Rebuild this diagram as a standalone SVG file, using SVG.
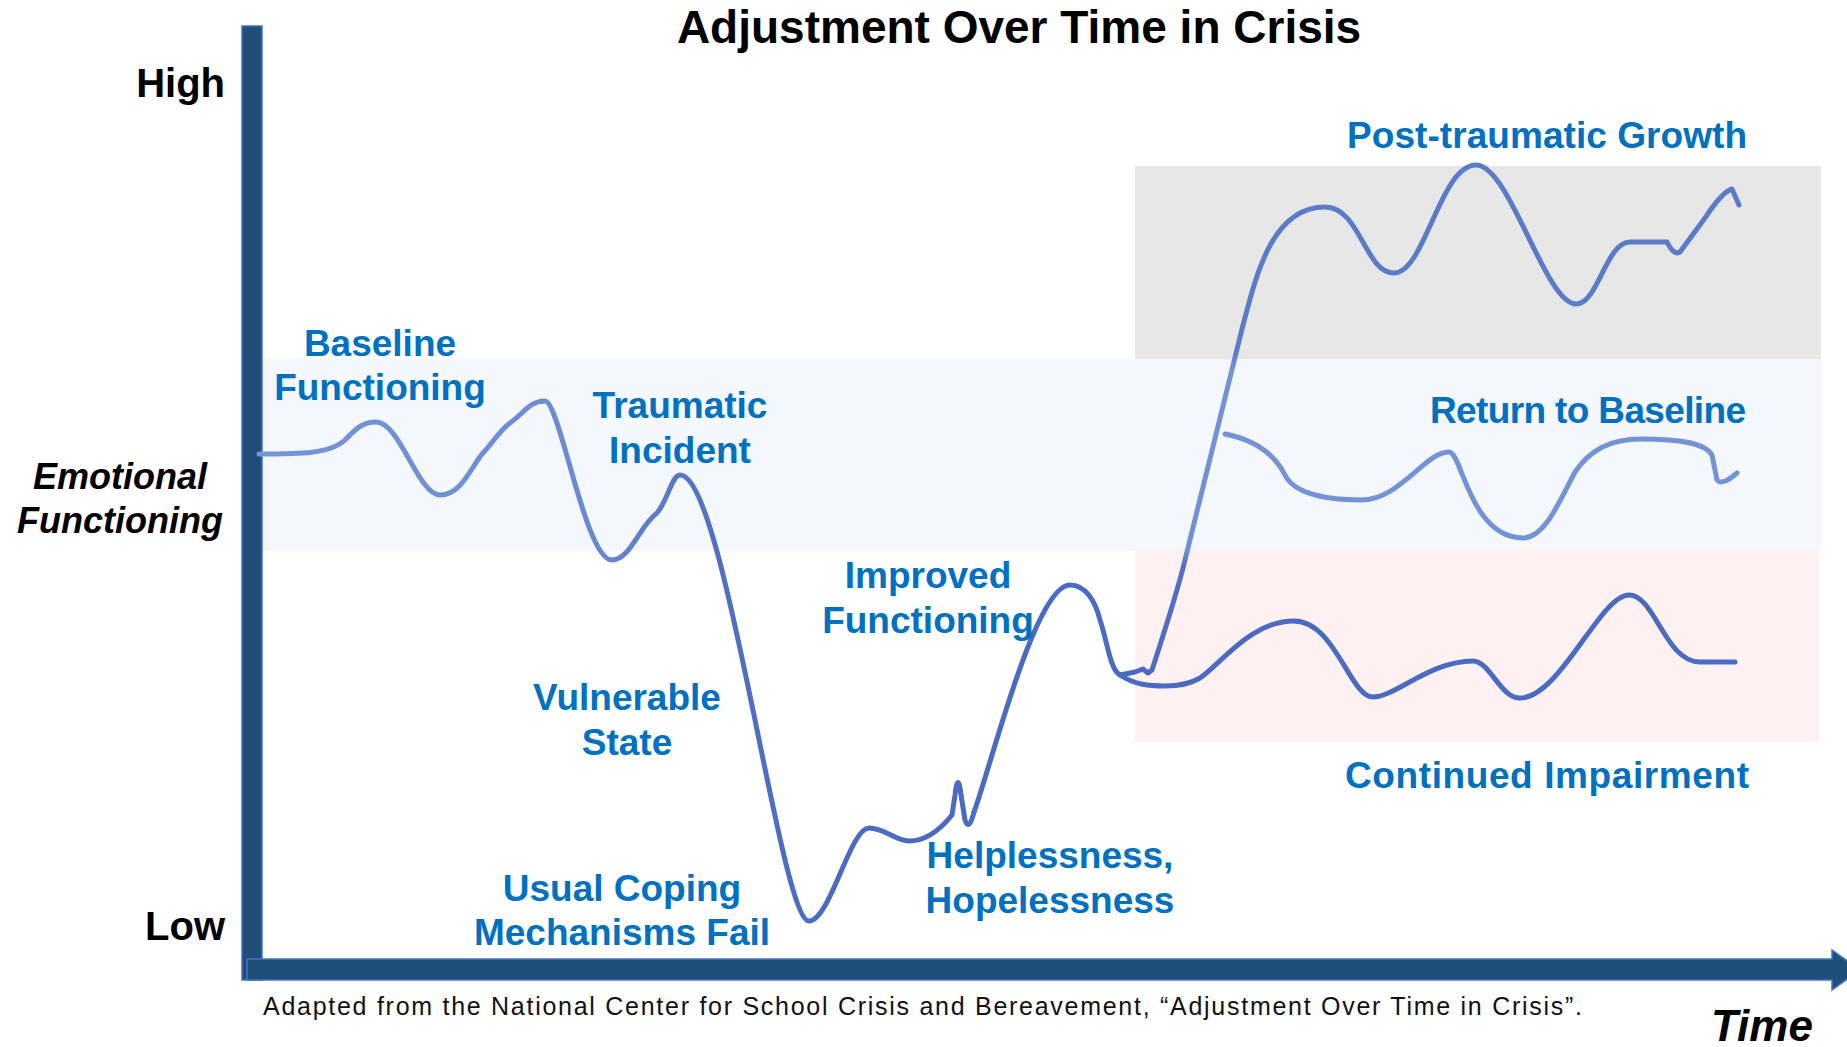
<svg xmlns="http://www.w3.org/2000/svg" width="1847" height="1047" viewBox="0 0 1847 1047">
<defs>
<style>
.lbl{font-family:"Liberation Sans",Arial,sans-serif;font-weight:bold;font-size:37px;fill:#0070C0}
.axl{font-family:"Liberation Sans",Arial,sans-serif;font-weight:bold;fill:#000}
.curve{fill:none;stroke-width:5;stroke-linecap:round;stroke-linejoin:round}
.note{font-family:"Liberation Sans",Arial,sans-serif;font-size:25px;fill:#111}
</style>
<linearGradient id="gMain" gradientUnits="userSpaceOnUse" x1="259" y1="0" x2="830" y2="0">
<stop offset="0" stop-color="#7495D8"/>
<stop offset="0.55" stop-color="#6B8CD4"/>
<stop offset="0.8" stop-color="#4F70C4"/>
<stop offset="1" stop-color="#4A6BC2"/>
</linearGradient>
<linearGradient id="gUp" gradientUnits="userSpaceOnUse" x1="0" y1="680" x2="0" y2="160">
<stop offset="0" stop-color="#4A6BC2"/>
<stop offset="0.22" stop-color="#5273C4"/>
<stop offset="0.25" stop-color="#7090D4"/>
<stop offset="0.6" stop-color="#7393D6"/>
<stop offset="0.63" stop-color="#5A7BC8"/>
<stop offset="1" stop-color="#5A7BC8"/>
</linearGradient>
</defs>
<rect width="1847" height="1047" fill="#fff"/>

<g id="zones">
<rect x="262" y="359" width="1560" height="192" fill="#F4F7FC"/>
<rect x="1135" y="166" width="686" height="193" fill="#E7E7E7"/>
<rect x="1135" y="550" width="684" height="192" fill="#FFF1F1"/>
</g>

<g id="axes">
<rect x="242" y="26" width="20" height="954" fill="#1F4E79" stroke="#4472C4" stroke-width="1.5"/>
<path d="M247,959 L1832,959 L1832,950 L1860,970 L1832,990 L1832,980 L247,980 Z" fill="#1F4E79" stroke="#4472C4" stroke-width="1.5"/>
</g>

<g id="connectors">
<path class="curve" stroke="url(#gMain)" d="M259,454 C300,454 330,454 345,440 C358,426 365,422 376,422 C400,422 418,495 440,495 C462,495 472,465 483,453 C495,440 500,430 510,423 C525,412 530,401 545,401 C560,401 585,560 612,560 C630,560 640,525 657,513 C668,500 672,475 680,475 C725,475 780,921 809,921 C830,921 850,828 869,828 C885,828 895,841 909,841 C925,841 940,830 952,815 L955,795 Q958,770 961,795 L965,820 Q969,832 974,812"/>
<path class="curve" stroke="#4A6BC2" d="M974,812 C990,770 1035,585 1070,585 C1085,585 1095,600 1100,620 C1107,640 1110,670 1120,675"/>
<path class="curve" stroke="#4A6BC2" d="M1120,675 C1135,685 1150,686 1165,686 C1180,686 1190,684 1200,678 C1220,665 1250,621 1294,621 C1335,621 1350,697 1373,697 C1395,697 1430,661 1473,661 C1490,661 1500,698 1520,698 C1560,698 1600,595 1629,595 C1655,595 1665,662 1700,662 L1735,662"/>
<path class="curve" stroke="url(#gUp)" d="M1120,675 L1135,672 L1143,669 L1148,673 L1152,670 C1165,630 1178,590 1185,560 L1241,333 C1255,280 1270,207 1325,207 C1360,207 1365,273 1394,273 C1425,273 1440,165 1476,165 C1510,165 1545,304 1576,304 C1598,304 1606,242 1630,242 L1667,242 Q1674,256 1680,252 L1705,218 Q1722,192 1732,189 L1739,205"/>
<path class="curve" stroke="#7393D6" d="M1225,434 C1255,440 1275,455 1285,475 C1295,495 1330,500 1361,500 C1400,500 1425,452 1449,452 C1462,452 1470,538 1523,538 C1545,538 1560,500 1575,472 C1590,450 1610,439 1641,439 C1680,439 1705,443 1712,455 L1717,480 Q1722,486 1737,473"/>
</g>

<g id="title"><text class="axl" x="1019" y="43" font-size="46" text-anchor="middle">Adjustment Over Time in Crisis</text></g>
<g id="high"><text class="axl" x="225" y="97" font-size="40" text-anchor="end">High</text></g>
<g id="low"><text class="axl" x="225" y="940" font-size="40" text-anchor="end">Low</text></g>
<g id="yaxis-label"><text class="axl" font-size="36" font-style="italic" text-anchor="middle"><tspan x="120" y="489">Emotional</tspan><tspan x="120" y="533">Functioning</tspan></text></g>
<g id="time"><text class="axl" x="1711" y="1041" font-size="44" font-style="italic">Time</text></g>

<g id="baseline"><text class="lbl" text-anchor="middle"><tspan x="380" y="356">Baseline</tspan><tspan x="380" y="400">Functioning</tspan></text></g>
<g id="traumatic"><text class="lbl" text-anchor="middle"><tspan x="680" y="418">Traumatic</tspan><tspan x="680" y="463">Incident</tspan></text></g>
<g id="vulnerable"><text class="lbl" text-anchor="middle"><tspan x="627" y="710">Vulnerable</tspan><tspan x="627" y="755">State</tspan></text></g>
<g id="coping"><text class="lbl" text-anchor="middle"><tspan x="622" y="901">Usual Coping</tspan><tspan x="622" y="945">Mechanisms Fail</tspan></text></g>
<g id="improved"><text class="lbl" text-anchor="middle"><tspan x="928" y="588">Improved</tspan><tspan x="928" y="633">Functioning</tspan></text></g>
<g id="helpless"><text class="lbl" text-anchor="middle"><tspan x="1050" y="868">Helplessness,</tspan><tspan x="1050" y="913">Hopelessness</tspan></text></g>
<g id="growth"><text class="lbl" x="1347" y="148" textLength="400">Post-traumatic Growth</text></g>
<g id="return"><text class="lbl" x="1430" y="423" textLength="316">Return to Baseline</text></g>
<g id="impair"><text class="lbl" x="1345" y="788" textLength="404">Continued Impairment</text></g>

<g id="footnote"><text class="note" x="263" y="1015" textLength="1319">Adapted from the National Center for School Crisis and Bereavement, “Adjustment Over Time in Crisis”.</text></g>
</svg>
